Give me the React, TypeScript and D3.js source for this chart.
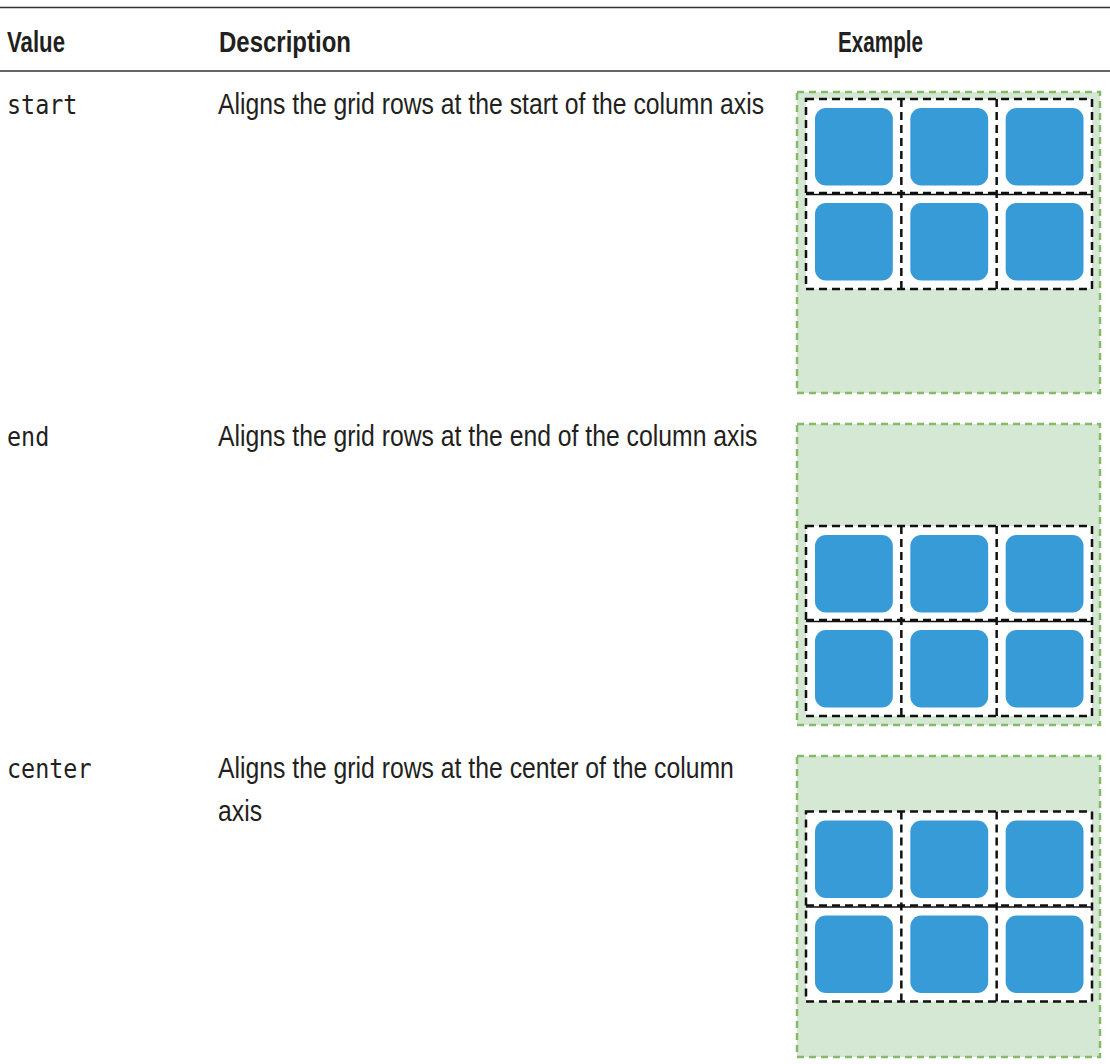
import React from 'react';
import * as d3 from 'd3';

// Table content
const headers = ['Value', 'Description', 'Example'];
const headerWidths = [58, 132, 85];
const values = ['start', 'end', 'center'];
const descriptions = [
  ['Aligns the grid rows at the start of the column axis'],
  ['Aligns the grid rows at the end of the column axis'],
  ['Aligns the grid rows at the center of the column', 'axis'],
];
const alignments = ['start', 'end', 'center'];

// Grid in each example: 3 columns x 2 rows
const gridColumns = ['c1', 'c2', 'c3'];
const gridRows = ['r1', 'r2'];

const W = 1110;
const H = 1064;
const TEXT = '#231f20';
const BLUE = '#379bd8';
const GREEN_FILL = '#d5e8d4';
const GREEN_STROKE = '#86b96a';

// no condensed Helvetica here, so squeeze Liberation Sans horizontally
const SANS = "'Liberation Sans', Arial, sans-serif";
const MONO = "'DejaVu Sans Mono', 'Liberation Mono', monospace";
const SANS_SQUEEZE = 0.825;
const MONO_SQUEEZE = 0.9;

const ExampleBox = ({ x, y, align }: { x: number; y: number; align: string }) => {
  const boxW = 303;
  const boxH = 301;
  const pad = 8;
  const gridW = 286;
  const gridH = 190;

  let gy = pad - 1;
  if (align === 'end') gy = boxH - pad - 1 - gridH;
  if (align === 'center') gy = (boxH - gridH) / 2;

  const cx = d3.scaleBand().domain(gridColumns).range([pad + 1, pad + 1 + gridW]);
  const cy = d3.scaleBand().domain(gridRows).range([gy, gy + gridH]);
  const cells = d3.cross(gridRows, gridColumns);

  const x0 = pad + 1;
  const x1 = pad + 1 + gridW;

  return (
    <g transform={`translate(${x},${y})`}>
      <rect
        x={0}
        y={0}
        width={boxW}
        height={boxH}
        fill={GREEN_FILL}
        stroke={GREEN_STROKE}
        strokeWidth={2.5}
        strokeDasharray="7 5"
      />
      <rect x={x0} y={gy} width={gridW} height={gridH} fill="#fff" />
      {cells.map(([r, c]) => (
        <rect
          key={`b-${r}-${c}`}
          x={(cx(c) as number) + 9}
          y={(cy(r) as number) + 9}
          width={cx.bandwidth() - 17.5}
          height={cy.bandwidth() - 17.5}
          rx={11}
          fill={BLUE}
        />
      ))}
      <g fill="none" stroke="#111">
        <rect
          x={x0}
          y={gy}
          width={gridW}
          height={gridH}
          strokeWidth={2.5}
          strokeDasharray="8 5"
        />
        {gridColumns.slice(1).map((c) => (
          <line
            key={c}
            x1={cx(c)}
            x2={cx(c)}
            y1={gy}
            y2={gy + gridH}
            strokeWidth={2.5}
            strokeDasharray="8 5"
          />
        ))}
        {gridRows.slice(1).map((r) => (
          <g key={r}>
            <line
              x1={x0}
              x2={x1}
              y1={(cy(r) as number) - 1}
              y2={(cy(r) as number) - 1}
              strokeWidth={2.5}
              strokeDasharray="8 5"
            />
            <line x1={x0} x2={x1} y1={(cy(r) as number) + 0.5} y2={(cy(r) as number) + 0.5} strokeWidth={1.3} />
          </g>
        ))}
      </g>
    </g>
  );
};

const App = () => {
  const rowY = d3.scaleBand().domain(values).range([92, 92 + 332 * 3]);
  const headerX = [7, 219, 838];

  return (
    <div style={{ position: 'absolute', left: 0, top: 0 }}>
      <svg width={W} height={H} style={{ display: 'block', background: '#fff' }}>
        <line x1={0} x2={W} y1={7.5} y2={7.5} stroke="#333" strokeWidth={1.5} />
        <line x1={0} x2={W} y1={71} y2={71} stroke="#333" strokeWidth={1.5} />

        <g fontFamily={SANS} fontWeight="bold" fontSize={29} fill={TEXT}>
          {headers.map((h, i) => (
            <text key={h} x={headerX[i]} y={52} textLength={headerWidths[i]} lengthAdjust="spacingAndGlyphs">
              {h}
            </text>
          ))}
        </g>

        {values.map((v, i) => {
          const top = rowY(v) as number;
          const base = top + 21.5;
          return (
            <g key={v}>
              <g transform={`translate(7,${base}) scale(${MONO_SQUEEZE},1)`}>
                <text x={0} y={0} fontFamily={MONO} fontSize={26} fill={TEXT}>
                  {v}
                </text>
              </g>
              {descriptions[i].map((line, j) => (
                <g key={j} transform={`translate(218,${base + j * 43}) scale(${SANS_SQUEEZE},1)`}>
                  <text x={0} y={0} fontFamily={SANS} fontSize={30} fill={TEXT}>
                    {line}
                  </text>
                </g>
              ))}
              <ExampleBox x={797} y={top} align={alignments[i]} />
            </g>
          );
        })}
      </svg>
    </div>
  );
};

export default App;
